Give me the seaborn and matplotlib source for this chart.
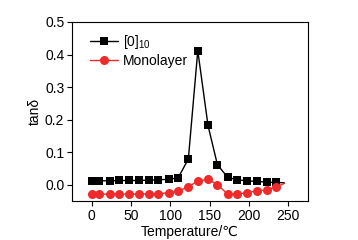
import matplotlib
matplotlib.use("Agg")
import matplotlib.pyplot as plt
import seaborn as sns
import pandas as pd

# data
temperature = [0, 10, 23, 35, 48, 60, 73, 85, 98, 110, 123, 135, 148, 160, 173, 185, 198, 210, 223, 235, 245]
tan_d_stack = [0.012, 0.012, 0.012, 0.013, 0.013, 0.013, 0.014, 0.015, 0.017, 0.021, 0.079, 0.412, 0.182,
               0.061, 0.023, 0.015, 0.012, 0.010, 0.008, 0.007, 0.006]
tan_d_mono = [-0.029, -0.029, -0.029, -0.029, -0.029, -0.029, -0.028, -0.027, -0.025, -0.020, -0.006, 0.011,
              0.017, 0.000, -0.029, -0.029, -0.024, -0.019, -0.016, -0.006, 0.004]
series_names = ["[0]$_{10}$", "Monolayer"]

sns.set_style("ticks")
plt.rcParams['font.family'] = ['Liberation Sans', 'DejaVu Sans']
plt.rcParams['mathtext.fontset'] = 'custom'
plt.rcParams['mathtext.rm'] = 'Liberation Sans'
plt.rcParams['mathtext.it'] = 'Liberation Sans'
plt.rcParams['text.color'] = 'black'
plt.rcParams['axes.labelcolor'] = 'black'
plt.rcParams['xtick.color'] = 'black'
plt.rcParams['ytick.color'] = 'black'
plt.rcParams['axes.edgecolor'] = 'black'

df = pd.DataFrame({"T": temperature, "stack": tan_d_stack, "mono": tan_d_mono})
n = len(temperature)

fig = plt.figure(figsize=(3.58, 2.40), dpi=100)
ax = fig.add_axes([0.201, 0.1625, 0.659, 0.746])

sns.lineplot(data=df, x="T", y="stack", ax=ax, color="black", marker="s", markersize=5.5,
             markeredgewidth=0, linewidth=1.0, markevery=list(range(n - 1)), label=series_names[0])
sns.lineplot(data=df, x="T", y="mono", ax=ax, color="#ee2a2a", marker="o", markersize=6.5,
             markeredgewidth=0, linewidth=1.0, markevery=list(range(n - 1)), label=series_names[1])

ax.set_xlim(-25, 275)
ax.set_ylim(-0.05, 0.5)
ax.set_xticks([0, 50, 100, 150, 200, 250])
ax.set_yticks([0.0, 0.1, 0.2, 0.3, 0.4, 0.5])
ax.set_yticklabels(["0.0", "0.1", "0.2", "0.3", "0.4", "0.5"])
ax.tick_params(direction="out", length=3.5, width=0.8, labelsize=10, pad=2)
for s in ax.spines.values():
    s.set_linewidth(0.8)
ax.set_xlabel("Temperature/℃", fontsize=10, labelpad=2)
ax.set_ylabel("tanδ", fontsize=10, labelpad=2)

leg = ax.legend(loc="upper left", bbox_to_anchor=(0.055, 0.97), frameon=False, fontsize=10,
                handlelength=2.0, handletextpad=0.35, borderaxespad=0.0, labelspacing=0.25)

fig.savefig("out.png", dpi=100)
